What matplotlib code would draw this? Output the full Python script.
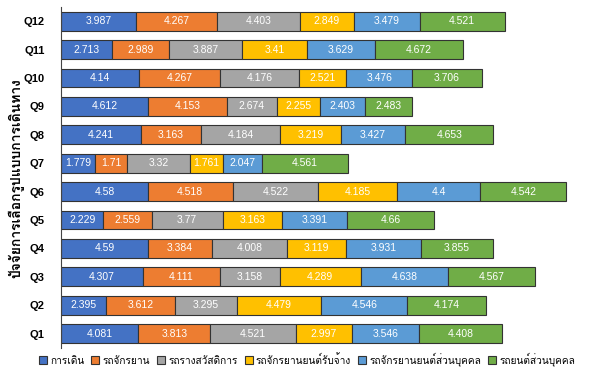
import matplotlib
matplotlib.use("Agg")
import matplotlib.pyplot as plt
from matplotlib import font_manager
from matplotlib.ft2font import FT2Font
import numpy as np

questions = ["Q1", "Q2", "Q3", "Q4", "Q5", "Q6", "Q7", "Q8", "Q9", "Q10", "Q11", "Q12"]
modes = ["การเดิน", "รถจักรยาน", "รถรางสวัสดิการ", "รถจักรยานยนต์รับจ้าง",
         "รถจักรยานยนต์ส่วนบุคคล", "รถยนต์ส่วนบุคคล"]

walk = [4.081, 2.395, 4.307, 4.59, 2.229, 4.58, 1.779, 4.241, 4.612, 4.14, 2.713, 3.987]
bicycle = [3.813, 3.612, 4.111, 3.384, 2.559, 4.518, 1.71, 3.163, 4.153, 4.267, 2.989, 4.267]
tram = [4.521, 3.295, 3.158, 4.008, 3.77, 4.522, 3.32, 4.184, 2.674, 4.176, 3.887, 4.403]
moto_taxi = [2.997, 4.479, 4.289, 3.119, 3.163, 4.185, 1.761, 3.219, 2.255, 2.521, 3.41, 2.849]
moto_own = [3.546, 4.546, 4.638, 3.931, 3.391, 4.4, 2.047, 3.427, 2.403, 3.476, 3.629, 3.479]
car_own = [4.408, 4.174, 4.567, 3.855, 4.66, 4.542, 4.561, 4.653, 2.483, 3.706, 4.672, 4.521]

series = [walk, bicycle, tram, moto_taxi, moto_own, car_own]
colors = ["#4472C4", "#ED7D31", "#A5A5A5", "#FFC000", "#5B9BD5", "#70AD47"]

# find a font that can draw Thai
thai_font = None
for f in font_manager.fontManager.ttflist:
    try:
        if 0x0E01 in FT2Font(f.fname).get_charmap():
            thai_font = f.name
            break
    except Exception:
        pass
families = ([thai_font] if thai_font else []) + ["DejaVu Sans"]
plt.rcParams["font.family"] = ["Liberation Sans"] + families

fig = plt.figure(figsize=(5.94, 3.72), dpi=100)
ax = fig.add_axes([0.103, 0.065, 0.89, 0.916])

y = np.arange(len(questions))
left = np.zeros(len(questions))
for vals, col, name in zip(series, colors, modes):
    bars = ax.barh(y, vals, left=left, height=0.66, color=col,
                   edgecolor="#333333", linewidth=0.8, label=name)
    for b, v in zip(bars, vals):
        ax.text(b.get_x() + b.get_width() / 2, b.get_y() + b.get_height() / 2,
                f"{v:g}", ha="center", va="center", color="white", fontsize=7.5)
    left += np.array(vals)

ax.set_ylim(-0.5, 11.5)
ax.set_xlim(0, 28)
ax.set_yticks(y)
ax.set_yticklabels(questions, fontsize=8, fontweight="semibold")
ax.tick_params(axis="y", length=0, pad=12)
ax.set_xticks([])
for s in ["top", "right", "bottom"]:
    ax.spines[s].set_visible(False)
ax.spines["left"].set_color("#444444")

fig.text(0.028, 0.52, "ปัจจัยการเลือกรูปแบบการเดินทาง", rotation=90,
         ha="center", va="center", fontsize=10, fontweight="bold", family=families)

leg = fig.legend(loc="lower left", bbox_to_anchor=(0.05, -0.01), ncol=6, frameon=False,
                 prop={"family": families, "size": 7.3}, handlelength=0.8, handleheight=0.8,
                 handletextpad=0.3, columnspacing=0.7)

fig.savefig("out.png", dpi=100)
